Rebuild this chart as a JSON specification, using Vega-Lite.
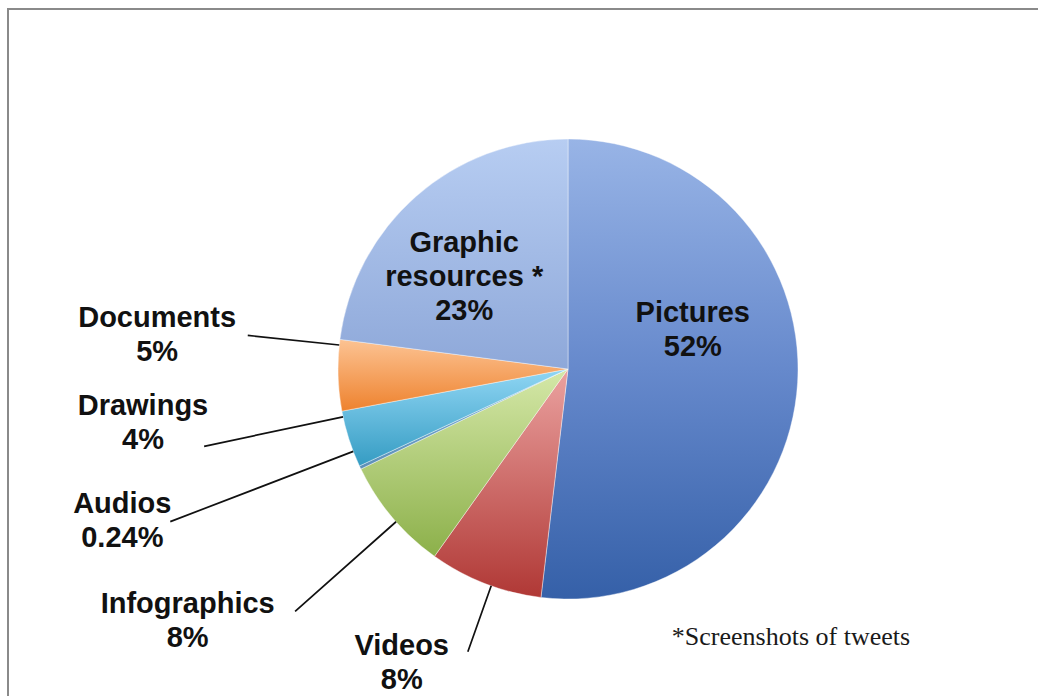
{
  "$schema": "https://vega.github.io/schema/vega-lite/v6.json",
  "width": 1120,
  "height": 720,
  "autosize": {"type": "none"},
  "padding": {"left": 8, "top": 9, "right": -90, "bottom": -33},
  "background": "#ffffff",
  "view": {"stroke": "#8a8a8a", "strokeWidth": 2, "fill": "#ffffff"},
  "data": {
    "values": [
      {"category": "Pictures", "value": 52, "label": "Pictures\n52%"},
      {"category": "Videos", "value": 8, "label": "Videos\n8%"},
      {"category": "Infographics", "value": 8, "label": "Infographics\n8%"},
      {"category": "Audios", "value": 0.24, "label": "Audios\n0.24%"},
      {"category": "Drawings", "value": 4, "label": "Drawings\n4%"},
      {"category": "Documents", "value": 5, "label": "Documents\n5%"},
      {"category": "Graphic resources", "value": 23, "label": "Graphic\nresources *\n23%"}
    ]
  },
  "layer": [
    {
      "transform": [{"window": [{"op": "row_number", "as": "idx"}]}],
      "mark": {"type": "arc", "radius": 230, "stroke": "#ffffff", "strokeWidth": 0.8, "strokeOpacity": 0.5},
      "encoding": {
        "theta": {"field": "value", "type": "quantitative", "stack": true},
        "order": {"field": "idx", "type": "quantitative"},
        "detail": {"field": "category", "type": "nominal"},
        "fill": {
          "condition": [
            {"test": "datum.category === 'Pictures'", "value": {"gradient": "linear", "x1": 0, "y1": 0, "x2": 0, "y2": 1, "stops": [{"offset": 0, "color": "#98b4e6"}, {"offset": 0.5, "color": "#6689cc"}, {"offset": 1, "color": "#3560a8"}]}},
            {"test": "datum.category === 'Videos'", "value": {"gradient": "linear", "x1": 0, "y1": 0, "x2": 0, "y2": 1, "stops": [{"offset": 0, "color": "#eba2a0"}, {"offset": 1, "color": "#b03835"}]}},
            {"test": "datum.category === 'Infographics'", "value": {"gradient": "linear", "x1": 0, "y1": 0, "x2": 0, "y2": 1, "stops": [{"offset": 0, "color": "#d5e8a8"}, {"offset": 1, "color": "#8cb04a"}]}},
            {"test": "datum.category === 'Audios'", "value": {"gradient": "linear", "x1": 0, "y1": 0, "x2": 0, "y2": 1, "stops": [{"offset": 0, "color": "#7fb6d8"}, {"offset": 1, "color": "#5d8fb8"}]}},
            {"test": "datum.category === 'Drawings'", "value": {"gradient": "linear", "x1": 0, "y1": 0, "x2": 0, "y2": 1, "stops": [{"offset": 0, "color": "#90d6f4"}, {"offset": 1, "color": "#359cc3"}]}},
            {"test": "datum.category === 'Documents'", "value": {"gradient": "linear", "x1": 0, "y1": 0, "x2": 0, "y2": 1, "stops": [{"offset": 0, "color": "#fcc393"}, {"offset": 1, "color": "#ee822e"}]}}
          ],
          "value": {"gradient": "linear", "x1": 0, "y1": 0, "x2": 0, "y2": 1, "stops": [{"offset": 0, "color": "#b7cdf2"}, {"offset": 1, "color": "#8ea8d9"}]}
        }
      }
    },
    {
      "transform": [
        {"filter": "datum.category !== 'Pictures' && datum.category !== 'Graphic resources'"}
      ],
      "mark": {"type": "arc", "filled": false, "color": "#111111", "strokeWidth": 1.7},
      "encoding": {
        "theta": {"value": {"expr": "datum.category === 'Videos' ? 3.482 : datum.category === 'Infographics' ? 3.986 : datum.category === 'Audios' ? 4.346 : datum.category === 'Drawings' ? 4.503 : 4.817"}},
        "theta2": {"value": {"expr": "datum.category === 'Videos' ? 3.482 : datum.category === 'Infographics' ? 3.986 : datum.category === 'Audios' ? 4.346 : datum.category === 'Drawings' ? 4.503 : 4.817"}},
        "radius": {"value": {"expr": "datum.category === 'Videos' ? 300 : datum.category === 'Infographics' ? 365 : datum.category === 'Audios' ? 426 : datum.category === 'Drawings' ? 372 : 322"}},
        "radius2": {"value": 230}
      }
    },
    {
      "transform": [{"window": [{"op": "row_number", "as": "idx"}]}],
      "mark": {
        "type": "text",
        "font": "Liberation Sans",
        "fontWeight": "bold",
        "fontSize": 29,
        "lineBreak": "\n",
        "lineHeight": 34,
        "align": "center",
        "baseline": "alphabetic",
        "fill": "#111111",
        "dx": {"expr": "datum.category === 'Pictures' ? -5 : datum.category === 'Graphic resources' ? -18 : datum.category === 'Documents' ? -11 : datum.category === 'Drawings' ? -25 : datum.category === 'Audios' ? -30 : datum.category === 'Infographics' ? -44 : -51"},
        "dy": {"expr": "datum.category === 'Pictures' ? -55 : datum.category === 'Graphic resources' ? -19 : datum.category === 'Documents' ? -53 : datum.category === 'Drawings' ? -82 : datum.category === 'Audios' ? -53 : datum.category === 'Infographics' ? -40 : -13"}
      },
      "encoding": {
        "theta": {"field": "value", "type": "quantitative", "stack": true},
        "order": {"field": "idx", "type": "quantitative"},
        "detail": {"field": "category", "type": "nominal"},
        "radius": {"value": {"expr": "datum.category === 'Pictures' ? 130 : datum.category === 'Graphic resources' ? 130 : datum.category === 'Documents' ? 400 : datum.category === 'Drawings' ? 420 : datum.category === 'Audios' ? 460 : datum.category === 'Infographics' ? 440 : 320"}},
        "text": {"field": "label", "type": "nominal"}
      }
    },
    {
      "data": {"values": [{"note": "*Screenshots of tweets"}]},
      "mark": {"type": "text", "font": "Liberation Serif", "fontSize": 26, "align": "center", "baseline": "alphabetic", "fill": "#1a1a1a", "dx": 223, "dy": 276},
      "encoding": {"text": {"field": "note", "type": "nominal"}}
    }
  ]
}
